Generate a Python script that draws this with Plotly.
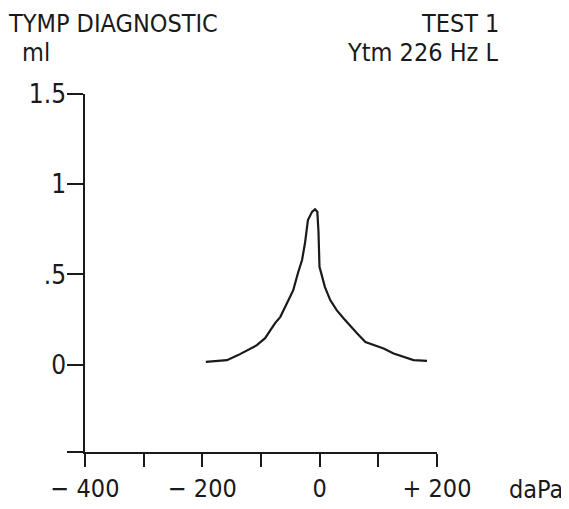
import plotly.graph_objects as go

# Tympanogram trace (pressure in daPa, compliance in ml)
pressure = [-194, -158, -139, -124, -107, -93, -82, -76, -67, -56, -45, -37, -30, -25,
            -22, -20, -13, -8, -4, -2, -0.3, 4, 9, 18, 29, 41, 55, 64, 78, 92, 109,
            126, 143, 160, 183]
compliance = [0.016, 0.025, 0.053, 0.080, 0.108, 0.147, 0.202, 0.230, 0.265, 0.341,
              0.413, 0.508, 0.580, 0.674, 0.746, 0.801, 0.847, 0.861, 0.847, 0.737,
              0.542, 0.487, 0.430, 0.358, 0.302, 0.256, 0.202, 0.173, 0.126, 0.108,
              0.090, 0.062, 0.043, 0.025, 0.021]

x_tickvals = [-400, -300, -200, -100, 0, 100, 200]
x_ticktext = ["\u2212 400", "", "\u2212 200", "", "0", "", "+ 200"]
y_min = -0.484
y_tickvals = [y_min, 0, 0.5, 1, 1.5]
y_ticktext = ["", "0", ".5", "1", "1.5"]

FONT = "DejaVu Sans Condensed, Liberation Sans Narrow, sans-serif"
INK = "#1a1a1a"
FS = 25

# the page body adds an 8px margin; lay out in window pixels and subtract it
OFF = 8
W, H = 569 - OFF, 509 - OFF
L, T = 85 - OFF, 94 - OFF
R = W - (437 - OFF)
B = H - (452 - OFF)

fig = go.Figure()
fig.add_trace(go.Scatter(x=pressure, y=compliance, mode="lines",
                         line=dict(color=INK, width=2.2), hoverinfo="skip"))

fig.update_layout(
    width=W, height=H,
    margin=dict(l=L, r=R, t=T, b=B, autoexpand=False),
    paper_bgcolor="white", plot_bgcolor="white",
    showlegend=False,
    font=dict(family=FONT, size=FS, color=INK),
)
fig.update_xaxes(range=[-400, 200], tickvals=x_tickvals, ticktext=x_ticktext,
                 ticks="outside", ticklen=13, tickwidth=1.5, tickcolor=INK,
                 showline=True, linecolor=INK, linewidth=1.5,
                 showgrid=False, zeroline=False, automargin=False,
                 tickfont=dict(family=FONT, size=FS, color=INK))
fig.update_yaxes(range=[y_min, 1.5], tickvals=y_tickvals, ticktext=y_ticktext,
                 ticks="outside", ticklen=16, tickwidth=1.5, tickcolor=INK,
                 showline=True, linecolor=INK, linewidth=1.5,
                 showgrid=False, zeroline=False, automargin=False,
                 ticklabelstandoff=-4,
                 tickfont=dict(family=FONT, size=26, color=INK))

ann = dict(xref="paper", yref="paper", showarrow=False,
           font=dict(family=FONT, size=FS, color=INK))
pw = W - L - R
ph = H - T - B


def add_px(text, x, y, xanchor, yanchor="middle"):
    # positions given in window pixels, converted to paper coords
    x -= OFF
    y -= OFF
    fig.add_annotation(text=text, x=(x - L) / pw, y=(H - B - y) / ph,
                       xanchor=xanchor, yanchor=yanchor, **ann)


add_px("TYMP DIAGNOSTIC", 6, 23.5, "left")
add_px("ml", 20, 52.5, "left")
add_px("TEST 1", 501, 23.5, "right")
add_px("Ytm 226 Hz L", 501, 52.5, "right")
add_px("daPa", 507, 489, "left")

fig.write_html("out.html")
